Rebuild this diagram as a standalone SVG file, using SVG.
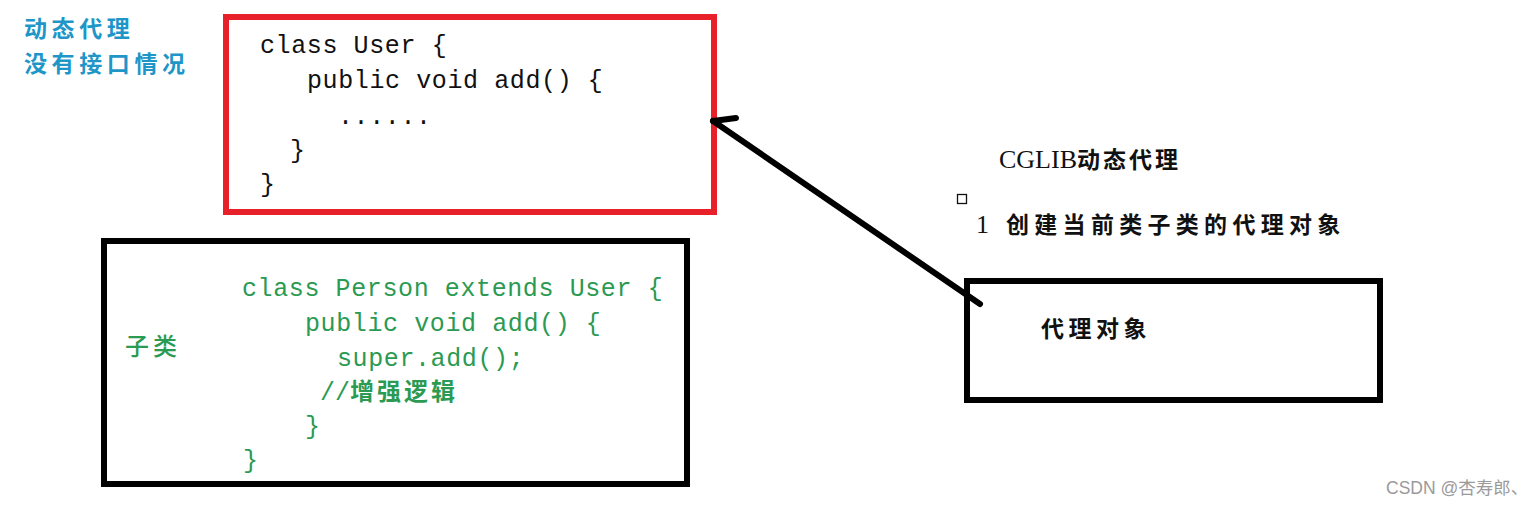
<svg xmlns="http://www.w3.org/2000/svg" width="1538" height="507" viewBox="0 0 1538 507">
<style>
.code{font-family:"Liberation Mono","DejaVu Sans Mono","Noto Sans CJK SC",monospace;font-size:25px;letter-spacing:0.6px}
.blk{fill:#111}
.grn{fill:#2b9a52}
.cjk{font-family:"Noto Sans CJK SC","Liberation Sans",sans-serif;font-weight:bold}
.box{fill:none;stroke-width:6}
</style>
<rect width="1538" height="507" fill="#ffffff"/>
<g id="title">
<text class="cjk" x="24" y="37" font-size="23" letter-spacing="4.6" fill="#1e96c8">动态代理</text>
<text class="cjk" x="24" y="72" font-size="23" letter-spacing="4.6" fill="#1e96c8">没有接口情况</text>
</g>
<g id="user-class">
<rect class="box" x="226" y="17" width="488" height="195" stroke="#e8202a"/>
<text class="code blk" x="260" y="53">class User {</text>
<text class="code blk" x="307" y="88">public void add() {</text>
<text class="code blk" x="338" y="124">......</text>
<text class="code blk" x="290" y="158">}</text>
<text class="code blk" x="260" y="192">}</text>
</g>
<g id="person-class">
<rect class="box" x="104" y="241" width="583" height="243" stroke="#000"/>
<text class="grn" x="125" y="355" font-size="24" letter-spacing="4" style="font-family:'Noto Sans CJK SC',sans-serif;font-weight:500">子类</text>
<text class="code grn" x="242" y="296">class Person extends User {</text>
<text class="code grn" x="305" y="331">public void add() {</text>
<text class="code grn" x="337" y="366">super.add();</text>
<text class="grn" x="320" y="400" font-size="25" font-family="Liberation Mono,monospace">//<tspan class="cjk" font-size="24" letter-spacing="3">增强逻辑</tspan></text>
<text class="code grn" x="305" y="434">}</text>
<text class="code grn" x="243" y="468">}</text>
</g>
<g id="cglib-note">
<text x="999" y="168" fill="#111"><tspan font-family="Liberation Serif,serif" font-size="26">CGLIB</tspan><tspan class="cjk" x="1077" font-size="23" letter-spacing="3">动态代理</tspan></text>
<rect x="957.5" y="194.5" width="9" height="9" fill="none" stroke="#111" stroke-width="1.3"/>
<text x="976" y="233" fill="#111"><tspan font-family="Liberation Serif,serif" font-size="26">1</tspan><tspan class="cjk" x="1006" font-size="23" letter-spacing="5.3">创建当前类子类的代理对象</tspan></text>
</g>
<g id="proxy-object">
<rect class="box" x="967" y="281" width="413" height="119" stroke="#000"/>
<text class="cjk" x="1041" y="337" font-size="23" letter-spacing="4.5" fill="#111">代理对象</text>
</g>
<g id="connectors" fill="none" stroke="#000" stroke-width="6" stroke-linecap="round" stroke-linejoin="round">
<path d="M980 304 L713 121"/>
<path d="M713 121 L736 118"/>
</g>
<g id="watermark">
<text x="1386" y="494" font-size="17.5" fill="#9a9a9a" font-family="Liberation Sans,Noto Sans CJK SC,sans-serif">CSDN @杏寿郎、</text>
</g>
</svg>
